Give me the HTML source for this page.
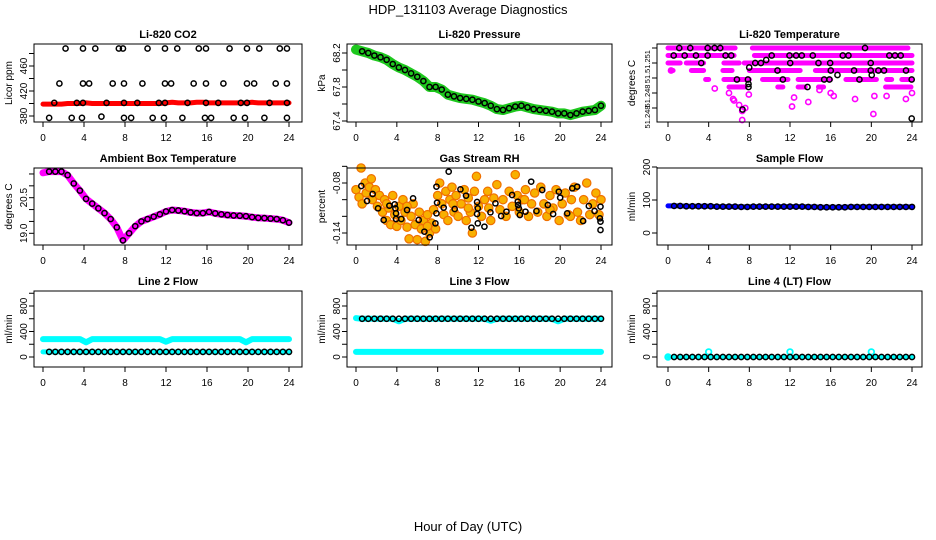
<!DOCTYPE html>
<html><head><meta charset="utf-8"><style>
html,body{margin:0;padding:0;background:#fff;}
svg{display:block;font-family:"Liberation Sans",sans-serif;}
</style></head><body>
<svg id="chart" width="936" height="540" viewBox="0 0 936 540" xmlns="http://www.w3.org/2000/svg">
<rect width="936" height="540" fill="#fff"/>
<text x="468" y="14" text-anchor="middle" font-size="13">HDP_131103  Average Diagnostics</text>
<text x="468" y="531" text-anchor="middle" font-size="13">Hour of Day (UTC)</text>
</svg>
<script>
const hours = [0,0.6,1.2,1.8,2.4,3.0,3.6,4.2,4.8,5.4,6.0,6.6,7.2,7.8,8.4,9.0,9.6,10.2,10.8,11.4,12.0,12.6,13.2,13.8,14.4,15.0,15.6,16.2,16.8,17.4,18.0,18.6,19.2,19.8,20.4,21.0,21.6,22.2,22.8,23.4,24.0];
const xTicks = [0,4,8,12,16,20,24];

const co2Band = [399,399,399,399,400,400,400,401,400,400,400,400,400,400,400,400,400,400,400,400,401,402,401,401,401,402,402,401,401,401,401,401,401,401,402,401,401,401,401,401,401];
const co2T = [2.2,3.9,5.1,7.4,7.8,10.2,11.9,13.1,15.2,15.9,18.2,19.9,21.1,23.1,23.8, 1.6,3.9,4.5,6.8,7.9,9.7,11.9,12.5,14.7,15.9,17.6,19.9,20.6,22.7,23.8, 1.1,3.3,3.9,6.2,7.9,9.2,11.3,11.9,14.1,15.9,17.1,19.3,19.9,22.1,23.8, 0.6,2.8,3.8,5.7,7.9,8.6,10.7,11.8,13.6,15.8,16.4,18.6,19.7,21.6,23.8];
const co2V = [488,488,488,488,488,488,488,488,488,488,488,488,488,488,488, 432,432,432,432,432,432,432,432,432,432,432,432,432,432,432, 401,401,401,401,401,401,401,401,401,401,401,401,401,401,401, 377,377,377,379,377,377,377,377,377,377,377,377,377,377,377];
const co2Ticks = [380,400,420,440,460,480];
const co2Labels = ["380","","420","","460",""];

const pressure = [68.24,68.22,68.2,68.17,68.15,68.12,68.07,68.03,68.0,67.96,67.92,67.87,67.8,67.80,67.77,67.71,67.69,67.67,67.66,67.65,67.63,67.61,67.58,67.54,67.53,67.55,67.57,67.58,67.56,67.54,67.53,67.52,67.51,67.49,67.49,67.47,67.49,67.51,67.52,67.53,67.58];
const pressTicks = [67.4,67.6,67.8,68.0,68.2];
const pressLabels = ["67.4","","67.8","","68.2"];

const tempRunStart = [0,8.3, 0,8.5, 0,1.8,5.5,7.5, 0.3,2.3,5.4,8.0,14.5,19.0, 3.7,5.5,7.0,9.3,12.8,17.5,21.5,23.0, 6.0,10.8,12.8,14.8,21.4];
const tempRunEnd = [6.6,23.6, 6.5,24, 1.2,3.5,7.0,24, 0.5,3.5,6.3,13.0,18.8,24, 4.0,6.8,8.0,11.8,16.0,20.5,22.0,24, 7.6,11.3,13.5,15.3,23.9];
const tempRunVal = [51.2520,51.2520, 51.2515,51.2515, 51.2510,51.2510,51.2510,51.2510, 51.2505,51.2505,51.2505,51.2505,51.2505,51.2505, 51.2499,51.2499,51.2499,51.2499,51.2499,51.2499,51.2499,51.2499, 51.2494,51.2494,51.2494,51.2494,51.2494];
const tempPinkT = [4.6,6.0,6.4,6.5,7.0,7.3,7.6,7.3,7.95,12.4,12.2,13.8,14.9,16.0,16.3,18.4,20.2,20.3,21.5,23.4,24.0,0.3];
const tempPinkV = [51.2493,51.2490,51.2486,51.2485,51.2482,51.2478,51.2480,51.2472,51.2489,51.2487,51.2481,51.2484,51.2492,51.2490,51.2488,51.2486,51.2476,51.2488,51.2488,51.2486,51.2490,51.2505];
const tempBlackT = [0.56,1.11,1.64,2.19,2.75,3.27,3.9,3.9,4.58,5.14,5.66,6.22,6.78,7.33,7.86,7.92,7.92,7.99,8.58,9.14,9.66,10.2,10.77,11.3,11.95,12.02,12.6,13.16,13.72,14.24,14.8,15.36,15.88,15.95,16.01,16.67,17.19,17.75,18.3,18.83,19.38,19.94,19.94,20.04,20.69,21.25,21.77,22.33,22.89,23.41,23.97,23.97];
const tempBlackV = [51.2515,51.2520,51.2515,51.2520,51.2515,51.2510,51.2520,51.2515,51.2520,51.2520,51.2515,51.2515,51.2499,51.2479,51.2499,51.2496,51.2494,51.2507,51.2510,51.2510,51.2512,51.2515,51.2505,51.2499,51.2515,51.2510,51.2515,51.2515,51.2494,51.2515,51.2510,51.2499,51.2499,51.2510,51.2505,51.2502,51.2515,51.2515,51.2505,51.2499,51.2520,51.2510,51.2505,51.2502,51.2505,51.2505,51.2515,51.2515,51.2515,51.2505,51.2499,51.2473];
const tempTicks = [51.252,51.251,51.250,51.249,51.248];
const tempLabelVals = [51.2511,51.2500,51.2488,51.2474];
const tempLabels = ["51.251","51.","51.248","51.248"];

const ambient = [21.55,21.6,21.6,21.6,21.45,21.1,20.8,20.45,20.25,20.05,19.85,19.6,19.25,18.7,19.0,19.3,19.5,19.6,19.7,19.8,19.92,19.98,19.96,19.93,19.88,19.85,19.85,19.9,19.84,19.8,19.77,19.75,19.74,19.72,19.68,19.65,19.64,19.62,19.6,19.55,19.45];
const ambTicks = [19.0,19.5,20.0,20.5,21.0,21.5];
const ambLabels = ["19.0","","","20.5","",""];

const rhOrangeT = [0.0,0.3,0.5,0.6,0.9,1.0,1.3,1.5,1.6,1.9,2.1,2.3,2.6,2.8,3.0,3.2,3.4,3.6,3.8,4.0,4.2,4.4,4.6,4.8,5.0,5.2,5.4,5.6,5.8,6.0,6.2,6.4,6.6,6.8,7.0,7.2,7.4,7.6,7.8,8.0,8.2,8.4,8.6,8.8,9.0,9.2,9.4,9.6,9.8,10.0,10.3,10.6,10.8,11.0,11.2,11.4,11.6,11.8,12.0,12.3,12.6,12.9,13.2,13.5,13.8,14.1,14.4,14.7,15.0,15.3,15.6,15.8,16.0,16.3,16.6,16.9,17.2,17.5,17.8,18.1,18.4,18.7,19.0,19.3,19.6,19.9,20.2,20.5,20.8,21.1,21.4,21.7,22.0,22.3,22.6,22.9,23.2,23.5,23.8,24.0,16.5,9.5,5.0,13.0,21.0,3.0,7.0,19.0,11.0];
const rhOrangeV = [-0.088,-0.097,-0.062,-0.105,-0.080,-0.092,-0.085,-0.075,-0.100,-0.088,-0.108,-0.095,-0.115,-0.100,-0.125,-0.110,-0.130,-0.095,-0.118,-0.132,-0.108,-0.125,-0.100,-0.115,-0.133,-0.147,-0.120,-0.105,-0.130,-0.148,-0.115,-0.135,-0.125,-0.150,-0.118,-0.140,-0.128,-0.112,-0.135,-0.095,-0.080,-0.105,-0.118,-0.090,-0.125,-0.100,-0.085,-0.115,-0.095,-0.120,-0.105,-0.088,-0.125,-0.098,-0.115,-0.140,-0.090,-0.072,-0.108,-0.120,-0.100,-0.090,-0.125,-0.098,-0.082,-0.112,-0.100,-0.120,-0.090,-0.108,-0.070,-0.095,-0.115,-0.100,-0.088,-0.120,-0.105,-0.092,-0.115,-0.085,-0.105,-0.120,-0.095,-0.110,-0.088,-0.125,-0.105,-0.092,-0.118,-0.100,-0.085,-0.115,-0.125,-0.100,-0.080,-0.118,-0.105,-0.092,-0.118,-0.100,-0.100,-0.105,-0.108,-0.110,-0.120,-0.105,-0.132,-0.112,-0.110];
const rhBlackT = [0.52,1.08,1.63,2.16,2.71,3.27,3.79,3.86,3.92,3.92,4.44,5.0,5.59,6.14,6.7,7.22,7.78,7.88,7.94,7.88,8.59,9.08,9.67,10.23,10.78,11.31,11.86,11.86,11.93,11.93,12.58,13.17,13.66,14.22,14.74,15.29,15.85,15.88,15.95,16.05,16.6,17.16,17.68,18.24,18.79,19.31,19.87,20.0,20.69,21.18,21.67,22.25,22.81,23.37,23.89,23.95,23.95,23.95];
const rhBlackV = [-0.0836,-0.1016,-0.0932,-0.1104,-0.1244,-0.1072,-0.1056,-0.1104,-0.1164,-0.1232,-0.1232,-0.1124,-0.0984,-0.1244,-0.1384,-0.1452,-0.1284,-0.0844,-0.1036,-0.1164,-0.1096,-0.0664,-0.1112,-0.0876,-0.0952,-0.1336,-0.1028,-0.1172,-0.1104,-0.1284,-0.1324,-0.1152,-0.1044,-0.1196,-0.1144,-0.0944,-0.1024,-0.1064,-0.1104,-0.1184,-0.1144,-0.0784,-0.1136,-0.0884,-0.1064,-0.1172,-0.0904,-0.0976,-0.1164,-0.0864,-0.0844,-0.1256,-0.1076,-0.1136,-0.1224,-0.1264,-0.1364,-0.1084];
const rhTicks = [-0.06,-0.08,-0.10,-0.12,-0.14];
const rhLabels = ["","-0.08","","","-0.14"];

const sampleFlow = [82,82,82,81,81,81,81,81,80,80,80,80,79,79,80,80,80,80,80,80,80,80,80,79,79,78,78,78,78,78,79,79,79,79,79,79,79,79,79,79,79];
const sampleTicks = [0,100,200];
const sampleLabels = ["0","100","200"];

const line2Black = [80,80,80,80,80,80,80,80,80,80,80,80,80,80,80,80,80,80,80,80,80,80,80,80,80,80,80,80,80,80,80,80,80,80,80,80,80,80,80,80,80];
const line2CyanHigh = [280,280,280,280,280,280,280,230,280,280,280,280,280,280,280,280,280,280,280,280,240,280,280,280,280,280,280,280,280,280,280,280,280,230,280,280,280,280,280,280,280];
const line2CyanLow = [80,80,80,80,80,80,80,80,80,80,80,80,80,80,80,80,80,80,80,80,80,80,80,80,80,80,80,80,80,80,80,80,80,80,80,80,80,80,80,80,80];
const line3Black = [600,600,600,600,600,600,600,600,600,600,600,600,600,600,600,600,600,600,600,600,600,600,600,600,600,600,600,600,600,600,600,600,600,600,600,600,600,600,600,600,600];
const line3CyanHigh = [610,600,600,600,600,600,600,560,600,600,600,600,600,600,600,600,600,600,600,600,600,600,570,600,600,600,600,600,600,600,600,600,600,560,600,600,600,600,600,600,600];
const line3CyanLow = [80,80,80,80,80,80,80,80,80,80,80,80,80,80,80,80,80,80,80,80,80,80,80,80,80,80,80,80,80,80,80,80,80,80,80,80,80,80,80,80,80];
const line4Black = [0,0,0,0,0,0,0,0,0,0,0,0,0,0,0,0,0,0,0,0,0,0,0,0,0,0,0,0,0,0,0,0,0,0,0,0,0,0,0,0,0];
const line4CyanT = [0,4.0,12.0,20.0];
const line4CyanV = [0,80,80,80];
const flowTicks = [0,200,400,600,800,1000];
const flowLabels = ["0","","400","","800",""];

const NS = "http://www.w3.org/2000/svg";
const svg = document.getElementById('chart');
function mk(tag, attrs, parent) {
  const e = document.createElementNS(NS, tag);
  for (const k in attrs) e.setAttribute(k, attrs[k]);
  (parent || svg).appendChild(e);
  return e;
}
const cols = [{l:34,r:302,x0:43,x24:289},{l:347,r:612,x0:356,x24:601},{l:657,r:922,x0:668,x24:912}];
const rows = [{t:44,b:122},{t:168,b:245},{t:291,b:367}];

function panel(ci, ri, name, title, ylab, yref, ticks, labels, labelVals, lfs) {
  const c = cols[ci], r = rows[ri];
  const g = mk('g', {});
  
  
  const xs = t => c.x0 + (t / 24) * (c.x24 - c.x0);
  const ys = v => yref[1] + (v - yref[0]) * (yref[3] - yref[1]) / (yref[2] - yref[0]);
  const P = {g, xs, ys, c, r};
  const tt = mk('text', {x:(c.l + c.r) / 2, y:r.t - 6, 'text-anchor':'middle', 'font-size':11, 'font-weight':'bold'}, g);
  tt.textContent = title;
  
  
  const yl = mk('text', {x:0, y:0, 'text-anchor':'middle', 'font-size':10, transform:`translate(${c.l - 22},${(r.t + r.b) / 2}) rotate(-90)`}, g);
  yl.textContent = ylab;
  
  
  const ya = mk('g', {}, g);
  
  
  const yp = ticks.map(ys);
  mk('line', {x1:c.l, x2:c.l, y1:Math.min(...yp), y2:Math.max(...yp), stroke:'#000', 'stroke-width':1}, ya);
  ticks.forEach((v) => {
    mk('line', {x1:c.l - 5, x2:c.l, y1:ys(v), y2:ys(v), stroke:'#000', 'stroke-width':1}, ya);
  });
  (labelVals || ticks).forEach((v, i) => {
    if (!labels[i]) return;
    const t = mk('text', {x:0, y:0, 'text-anchor':'middle', 'font-size':lfs || 10, transform:`translate(${c.l - 7},${ys(v)}) rotate(-90)`}, ya);
    t.textContent = labels[i];
    
    
  });
  const xa = mk('g', {}, g);
  
  
  mk('line', {x1:xs(0), x2:xs(24), y1:r.b, y2:r.b, stroke:'#000'}, xa);
  xTicks.forEach(t => {
    mk('line', {x1:xs(t), x2:xs(t), y1:r.b, y2:r.b + 5, stroke:'#000'}, xa);
    const tx = mk('text', {x:xs(t), y:r.b + 19, 'text-anchor':'middle', 'font-size':10}, xa);
    tx.textContent = t;
    
    
  });
  P.finish = () => {
    const b = mk('rect', {x:c.l, y:r.t, width:c.r - c.l, height:r.b - r.t, fill:'none', stroke:'#000', 'stroke-width':1}, g);
    
    
  };
  return P;
}
function band(P, ts, vs, color, w, name, start) {
  const pts = [];
  for (let i = start || 0; i < ts.length; i++) pts.push(P.xs(ts[i]).toFixed(1) + ',' + P.ys(vs[i]).toFixed(1));
  const pl = mk('polyline', {points:pts.join(' '), fill:'none', stroke:color, 'stroke-width':w, 'stroke-linejoin':'round', 'stroke-linecap':'round'}, P.g);
  
  
}
function dots(P, ts, vs, stroke, fill, rr, sw, name, start) {
  const gg = mk('g', {}, P.g);
  
  
  for (let i = start || 0; i < ts.length; i++) {
    const ci = mk('circle', {cx:P.xs(ts[i]), cy:P.ys(vs[i]), r:rr, fill:fill, stroke:stroke, 'stroke-width':sw}, gg);
    
    
  }
}
const BK = (P, vs, name) => dots(P, hours, vs, '#000', 'none', 2.6, 1.5, name, 1);

let P = panel(0, 0, 'co2', 'Li-820 CO2', 'Licor ppm', [380,116,460,66], co2Ticks, co2Labels);
band(P, hours, co2Band, '#ff0000', 5, 'co2-red-series');
dots(P, co2T, co2V, '#000', 'none', 2.6, 1.5, 'co2-black-series');
P.finish();

P = panel(1, 0, 'pressure', 'Li-820 Pressure', 'kPa', [68.2,53,67.4,121], pressTicks, pressLabels);
band(P, hours, pressure, '#1ec81e', 10, 'pressure-green-series');
BK(P, pressure, 'pressure-black-series');
P.finish();

P = panel(2, 0, 'temperature', 'Li-820 Temperature', 'degrees C', [51.251,63,51.248,108], tempTicks, tempLabels, tempLabelVals, 7.5);
for (let i = 0; i < tempRunStart.length; i++) {
  const ln = mk('line', {x1:P.xs(tempRunStart[i]), x2:P.xs(tempRunEnd[i]), y1:P.ys(tempRunVal[i]), y2:P.ys(tempRunVal[i]), stroke:'#ff00ff', 'stroke-width':5, 'stroke-linecap':'round'}, P.g);
  
  
}
dots(P, tempPinkT, tempPinkV, '#ff00ff', 'none', 2.6, 1.6, 'temperature-magenta-series');
dots(P, tempBlackT, tempBlackV, '#000', 'none', 2.6, 1.5, 'temperature-black-series');
P.finish();

P = panel(0, 1, 'ambient', 'Ambient Box Temperature', 'degrees C', [19.0,233.3,20.5,197.7], ambTicks, ambLabels);
band(P, hours, ambient, '#ff00ff', 7, 'ambient-magenta-series');
BK(P, ambient, 'ambient-black-series');
P.finish();

P = panel(1, 1, 'rh', 'Gas Stream RH', 'percent', [-0.08,183,-0.14,233], rhTicks, rhLabels);
dots(P, rhOrangeT, rhOrangeV, '#f07000', '#f8b000', 4.2, 1.2, 'rh-orange-series');
dots(P, rhBlackT, rhBlackV, '#000', 'none', 2.6, 1.5, 'rh-black-series');
P.finish();

P = panel(2, 1, 'sample-flow', 'Sample Flow', 'ml/min', [0,233,200,167], sampleTicks, sampleLabels);
band(P, hours, sampleFlow, '#0000ff', 5, 'sample-flow-blue-series');
BK(P, sampleFlow, 'sample-flow-black-series');
P.finish();

P = panel(0, 2, 'line2', 'Line 2 Flow', 'ml/min', [0,357,800,306], flowTicks, flowLabels);
band(P, hours, line2CyanHigh, '#00ffff', 6, 'line2-cyan-high-series');
band(P, hours, line2CyanLow, '#00ffff', 5, 'line2-cyan-low-series');
BK(P, line2Black, 'line2-black-series');
P.finish();

P = panel(1, 2, 'line3', 'Line 3 Flow', 'ml/min', [0,357,800,306], flowTicks, flowLabels);
band(P, hours, line3CyanHigh, '#00ffff', 6, 'line3-cyan-high-series');
band(P, hours, line3CyanLow, '#00ffff', 6, 'line3-cyan-low-series');
BK(P, line3Black, 'line3-black-series');
P.finish();

P = panel(2, 2, 'line4', 'Line 4 (LT) Flow', 'ml/min', [0,357,800,306], flowTicks, flowLabels);
band(P, hours, line4Black, '#00ffff', 4, 'line4-cyan-base-series');
dots(P, line4CyanT, line4CyanV, '#00ffff', 'none', 2.8, 1.8, 'line4-cyan-series');
BK(P, line4Black, 'line4-black-series');
P.finish();
</script>
</body></html>
